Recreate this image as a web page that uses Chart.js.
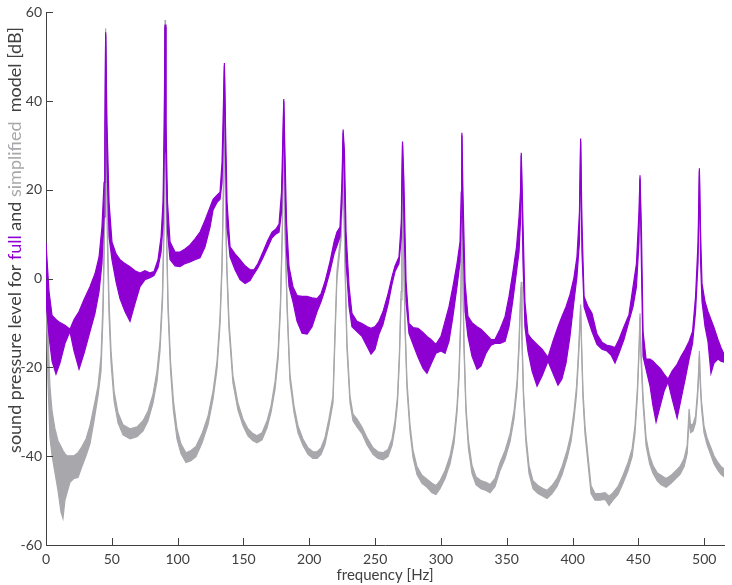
<!DOCTYPE html>
<html>
<head>
<meta charset="utf-8">
<script src="https://cdn.jsdelivr.net/npm/chart.js@4.4.0/dist/chart.umd.min.js"></script>
<style>
    body { margin: 0; background: #fff; }
    canvas { display: block; }
</style>
</head>
<body>
<canvas id="canvas" width="732" height="585"></canvas>
<script>
// full model: upper and lower envelope of the dense purple trace
var fullFreq = [
    0.0, 2.3, 4.6, 7.6, 10.6, 14.4, 18.2, 21.3, 25.1, 28.9, 33.4, 37.2, 40.3, 42.5, 44.1, 44.8, 45.3,
    46.3, 47.9, 50.1, 53.2, 56.2, 60.0, 63.8, 67.6, 71.4, 75.2, 79.0, 82.0, 85.1, 87.4, 88.9, 89.8, 90.4,
    91.1, 92.3, 94.2, 98.0, 101.8, 105.6, 109.4, 113.2, 117.0, 120.8, 124.6, 126.9, 129.9, 132.2, 133.7, 134.8, 135.5,
    136.3, 137.5, 139.8, 143.6, 147.4, 151.2, 155.0, 158.0, 161.0, 164.8, 168.6, 171.7, 174.7, 177.0, 178.9, 180.0, 180.6,
    181.5, 182.7, 184.6, 187.6, 190.7, 194.5, 198.3, 202.1, 205.9, 208.9, 211.9, 215.7, 218.8, 221.0, 223.3, 224.8, 225.7,
    226.7, 227.9, 230.2, 232.4, 236.2, 240.0, 243.8, 246.9, 249.9, 252.9, 256.0, 259.8, 262.8, 265.1, 268.1, 269.9, 270.8,
    271.9, 273.5, 275.7, 278.8, 282.6, 286.4, 289.4, 292.4, 296.2, 300.0, 303.1, 306.1, 309.1, 312.2, 314.5, 315.4, 315.9,
    316.7, 318.3, 320.5, 323.6, 327.4, 330.4, 334.2, 338.0, 341.0, 344.9, 348.7, 351.7, 354.7, 357.4, 359.3, 360.4, 361.0,
    362.3, 363.8, 366.1, 369.2, 373.0, 376.8, 381.3, 385.1, 388.9, 391.9, 395.0, 398.0, 401.0, 403.3, 405.2, 406.1,
    407.1, 408.7, 411.7, 414.7, 418.5, 422.3, 426.1, 429.2, 432.2, 435.2, 439.0, 442.8, 445.9, 448.5, 450.4, 451.2,
    452.3, 453.5, 455.8, 458.8, 461.1, 463.4, 466.5, 469.5, 472.5, 475.6, 479.4, 482.4, 485.5, 488.5, 491.1, 493.4, 495.3, 496.3,
    497.2, 498.3, 500.6, 502.8, 505.1, 507.4, 510.4, 512.7, 515.0
];
var fullMax = [
    8.1, -2.9, -8.3, -9.2, -9.9, -10.5, -11.4, -9.2, -7.4, -4.7, -1.8, 1.1, 4.9, 11.6, 21.7, 35.2, 55.5,
    35.2, 17.2, 8.3, 5.6, 4.3, 3.4, 2.7, 1.8, 1.3, 1.8, 1.3, 1.6, 4.3, 9.4, 17.2, 35.2, 57.3,
    35.2, 17.2, 8.3, 6.0, 6.0, 6.7, 7.6, 9.0, 10.5, 13.2, 16.1, 17.9, 18.8, 19.5, 26.2, 39.6, 48.6,
    35.2, 17.2, 7.2, 5.6, 4.3, 2.9, 2.0, 2.0, 3.4, 6.0, 8.7, 10.5, 11.2, 12.3, 19.5, 32.9, 40.5,
    28.4, 12.8, 2.7, -1.8, -3.8, -4.0, -4.0, -4.3, -4.5, -3.4, -0.7, 3.8, 8.3, 10.5, 11.6, 21.7, 33.6,
    28.4, 10.5, -1.8, -7.8, -9.6, -10.1, -10.8, -11.2, -10.8, -9.6, -7.4, -3.4, 0.4, 2.9, 4.9, 12.8, 30.9,
    21.7, -0.7, -10.1, -11.0, -11.2, -12.1, -13.0, -13.7, -14.8, -13.0, -9.6, -6.3, -1.8, 3.4, 8.3, 19.5, 32.9,
    19.5, -0.7, -8.5, -9.9, -10.8, -11.4, -12.5, -13.7, -13.7, -11.4, -8.5, -4.0, 1.6, 7.2, 13.9, 19.5, 28.4,
    12.8, -5.2, -12.5, -13.7, -14.8, -15.9, -17.7, -14.1, -10.8, -8.5, -6.3, -3.6, 0.2, 4.9, 15.0, 31.6,
    12.8, -4.0, -6.3, -7.8, -12.5, -14.3, -15.0, -15.2, -15.5, -13.7, -10.8, -8.1, -1.8, 3.4, 15.0, 23.3,
    10.5, -11.9, -18.1, -18.1, -18.6, -19.3, -20.2, -21.5, -22.6, -20.8, -19.3, -17.5, -15.9, -14.1, -11.9, -4.0, 8.3, 24.9,
    10.5, -1.1, -5.2, -7.4, -9.2, -11.0, -13.7, -15.5, -17.0
];
var fullMin = [
    -5.2, -13.0, -18.6, -21.5, -19.0, -14.6, -11.9, -16.3, -20.4, -16.8, -11.9, -7.8, -2.9, 3.4, 13.9, 30.7, 54.9,
    26.2, 9.4, 4.3, -0.7, -4.5, -7.4, -9.6, -5.6, -1.8, -0.2, 0.2, 0.7, 2.5, 6.0, 12.3, 28.4, 56.7,
    28.4, 10.5, 4.3, 2.9, 2.7, 3.4, 3.8, 4.3, 4.7, 7.2, 11.6, 15.5, 17.2, 17.9, 21.7, 32.9, 47.9,
    28.4, 11.6, 4.9, 2.0, -0.2, -1.1, -0.4, 1.1, 2.5, 4.7, 7.2, 9.2, 10.1, 10.5, 15.0, 28.4, 39.9,
    21.7, 6.0, -1.8, -5.2, -9.6, -12.3, -12.5, -10.8, -7.4, -5.2, -2.5, 1.6, 5.6, 7.4, 9.4, 17.2, 32.9,
    21.7, 3.8, -6.3, -10.8, -11.9, -13.0, -15.2, -17.0, -15.9, -12.5, -10.3, -5.8, -1.3, 1.6, 3.4, 9.4, 30.2,
    12.8, -5.2, -12.3, -14.8, -17.7, -20.2, -21.3, -19.3, -16.8, -16.3, -16.8, -14.1, -8.5, -1.8, 3.8, 13.9, 32.3,
    10.5, -7.4, -13.0, -17.5, -20.4, -19.7, -16.8, -15.0, -14.6, -14.6, -14.1, -10.8, -4.7, 1.6, 6.0, 12.8, 27.8,
    3.8, -10.8, -16.3, -20.8, -24.2, -21.9, -18.6, -21.3, -24.0, -22.6, -19.0, -13.0, -5.2, 0.4, 8.3, 30.9,
    6.0, -6.3, -9.2, -11.9, -14.8, -15.9, -16.3, -17.2, -19.0, -16.8, -13.7, -9.6, -6.3, -1.8, 8.3, 22.6,
    2.7, -17.5, -20.4, -24.2, -28.7, -32.3, -28.7, -25.3, -23.3, -27.1, -31.4, -27.1, -22.6, -18.1, -14.6, -7.4, 3.8, 24.2,
    3.8, -5.2, -10.8, -14.1, -21.3, -19.0, -18.1, -18.6, -18.8
];

// simplified model: upper and lower envelope of the grey trace
var simpFreq = [
    0.0, 1.5, 3.0, 4.6, 6.8, 9.1, 11.4, 12.9, 14.4, 16.0, 18.2, 21.3, 24.3, 27.3, 30.4, 33.4, 36.5, 39.5, 41.8, 43.3, 44.4, 45.0, 45.3,
    45.8, 46.7, 47.9, 49.4, 51.7, 54.7, 58.5, 63.8, 69.1, 73.7, 77.5, 81.3, 84.3, 86.6, 88.5, 89.6, 90.1, 90.4,
    90.8, 91.5, 92.7, 94.6, 96.8, 99.5, 102.5, 106.3, 110.1, 113.9, 118.5, 123.1, 126.9, 129.9, 132.2, 133.7, 134.8, 135.5,
    136.2, 137.3, 139.0, 142.0, 145.8, 149.6, 153.4, 157.2, 160.3, 164.1, 167.9, 170.9, 174.0, 176.3, 178.1, 179.6, 180.6,
    181.5, 183.1, 185.3, 188.4, 191.4, 195.2, 199.0, 202.8, 205.9, 208.9, 211.9, 214.9, 218.0, 219.5, 221.0, 222.5, 224.1, 225.2, 225.7,
    226.3, 227.5, 228.6, 230.9, 233.2, 236.2, 240.0, 243.8, 248.4, 252.2, 256.0, 259.8, 262.8, 265.1, 267.0, 268.5, 269.7, 270.4, 270.8,
    271.3, 272.7, 274.2, 276.5, 278.8, 281.8, 285.6, 289.4, 293.2, 296.2, 299.3, 303.1, 306.9, 309.9, 312.2, 313.7, 314.9, 315.5, 315.9,
    316.4, 317.5, 319.0, 320.9, 323.6, 326.6, 330.4, 334.2, 337.3, 341.1, 344.9, 348.7, 352.5, 355.5, 357.8, 359.3, 360.4, 361.0,
    361.5, 362.7, 364.6, 366.9, 369.9, 373.7, 377.5, 380.6, 384.4, 388.2, 392.0, 395.8, 398.8, 401.1, 403.0, 404.5, 405.6, 406.1,
    406.8, 407.9, 409.4, 411.3, 414.0, 417.0, 420.8, 424.6, 427.7, 430.7, 434.5, 438.3, 442.1, 445.2, 447.4, 449.3, 450.6, 451.2,
    452.0, 453.5, 455.8, 458.5, 461.1, 464.2, 467.2, 471.0, 474.8, 478.6, 481.6, 484.7, 487.0, 488.5, 489.6, 491.5, 493.4, 494.9, 495.9, 496.3,
    496.9, 497.9, 499.8, 502.1, 504.4, 507.4, 510.4, 512.7, 515.0
];
var simpMax = [
    7.2, -11.9, -24.2, -29.8, -33.8, -36.5, -37.8, -38.7, -39.4, -39.9, -39.9, -39.9, -39.2, -37.8, -36.1, -33.1, -28.7, -24.2, -17.5, -5.2, 12.8, 35.2, 56.4,
    35.2, 10.5, -5.2, -16.3, -25.3, -30.2, -32.9, -33.8, -33.4, -32.0, -29.8, -26.0, -20.8, -14.1, -2.9, 12.8, 35.2, 58.3,
    35.2, 12.8, -5.2, -18.6, -27.5, -33.8, -37.2, -39.2, -38.7, -37.8, -34.9, -30.9, -25.3, -18.6, -8.5, 3.8, 21.7, 46.8,
    21.7, 3.8, -9.6, -21.9, -28.0, -31.6, -33.8, -34.9, -35.4, -34.7, -32.0, -28.7, -23.1, -16.3, -5.2, 12.8, 37.8,
    12.8, -5.2, -21.5, -28.7, -33.1, -36.1, -38.1, -39.0, -39.0, -38.1, -35.8, -31.6, -26.4, -11.9, 1.6, 6.0, 10.5, 21.7, 30.7,
    17.2, -0.7, -14.1, -26.4, -30.5, -31.6, -33.4, -35.8, -38.1, -39.0, -39.2, -38.5, -36.1, -32.0, -26.4, -16.3, -2.9, 17.2, 27.3,
    12.8, -9.6, -23.1, -32.9, -38.7, -42.3, -44.3, -45.2, -46.1, -46.6, -45.5, -43.2, -39.9, -35.4, -28.7, -20.8, -9.6, 6.0, 26.2,
    6.0, -14.1, -28.7, -36.5, -42.1, -44.6, -45.5, -45.9, -46.4, -45.0, -41.4, -38.7, -34.9, -29.8, -23.1, -14.1, -4.0, -0.7,
    -11.9, -25.3, -35.4, -42.1, -45.5, -46.6, -47.3, -47.7, -46.6, -45.0, -42.3, -38.7, -34.9, -29.8, -24.2, -16.3, -9.2, -5.8,
    -14.1, -25.3, -33.1, -38.7, -46.6, -48.4, -48.4, -48.2, -49.0, -48.2, -46.8, -44.3, -41.4, -38.3, -33.1, -24.2, -14.1, -7.8,
    -16.3, -26.4, -35.8, -39.9, -42.1, -43.7, -44.3, -45.0, -44.3, -43.2, -42.3, -40.5, -37.6, -29.3, -33.1, -32.7, -30.9, -25.3, -19.7, -16.3,
    -21.9, -27.5, -33.1, -35.8, -37.6, -39.9, -41.4, -42.3, -42.8
];
var simpMin = [
    -2.9, -23.1, -35.8, -39.9, -43.7, -47.7, -52.6, -54.0, -49.9, -48.2, -45.9, -45.0, -44.8, -42.3, -39.9, -37.2, -32.0, -26.4, -20.8, -8.5, 9.4, 32.9, 55.3,
    32.9, 7.2, -8.5, -19.0, -27.5, -32.5, -35.2, -36.1, -35.6, -34.3, -32.0, -28.0, -23.1, -16.3, -5.2, 10.5, 32.9, 57.1,
    32.9, 10.5, -7.4, -20.8, -29.8, -36.1, -39.4, -41.4, -41.0, -40.1, -37.0, -32.9, -27.1, -20.4, -10.3, 2.0, 19.9, 45.5,
    19.9, 2.0, -11.4, -23.5, -29.6, -33.1, -35.4, -36.5, -37.0, -36.3, -33.6, -30.2, -24.9, -18.1, -6.9, 11.0, 36.5,
    11.0, -6.9, -23.1, -30.2, -34.7, -37.6, -39.6, -40.5, -40.5, -39.6, -37.4, -33.1, -28.0, -13.7, -0.2, 4.3, 8.7, 19.9, 29.6,
    15.5, -2.5, -15.9, -28.0, -32.0, -33.4, -34.9, -37.4, -39.6, -40.5, -40.8, -40.1, -37.6, -33.6, -28.0, -18.1, -4.7, 15.5, 26.2,
    11.0, -11.4, -24.9, -34.5, -40.3, -44.1, -46.1, -47.0, -48.2, -48.6, -47.3, -45.0, -41.7, -37.2, -30.2, -22.6, -11.4, 4.3, 25.1,
    4.3, -15.9, -30.2, -38.3, -43.9, -46.4, -47.3, -47.7, -48.2, -46.8, -43.2, -40.5, -36.7, -31.6, -24.9, -15.9, -5.6, -1.8,
    -13.7, -27.1, -37.2, -43.9, -47.3, -48.4, -49.0, -49.5, -48.4, -46.8, -44.1, -40.5, -36.7, -31.6, -26.0, -18.1, -10.5, -6.7,
    -15.9, -27.1, -34.9, -40.5, -48.4, -49.9, -49.9, -49.7, -51.1, -49.9, -48.6, -46.1, -43.2, -40.1, -34.9, -26.0, -15.5, -8.7,
    -18.1, -28.2, -37.6, -41.7, -43.9, -45.5, -46.4, -47.0, -46.1, -45.0, -44.1, -42.3, -39.4, -32.0, -34.7, -34.3, -32.5, -27.1, -21.3, -17.2,
    -23.5, -29.1, -34.7, -37.4, -39.2, -41.7, -43.2, -44.1, -44.6
];

var xTicks = [0, 50, 100, 150, 200, 250, 300, 350, 400, 450, 500];
var yTicks = [-60, -40, -20, 0, 20, 40, 60];

var purple = 'rgb(142,0,210)';
var grey = 'rgb(168,168,172)';
var ink = '#404040';
var fontFamily = 'Lato, "Noto Sans", sans-serif';

function toPoints(xs, ys) {
    var pts = [];
    for (var i = 0; i < xs.length; i++) pts.push({ x: xs[i], y: ys[i] });
    return pts;
}

// inward tick marks and the two-colour y label
var axisExtras = {
    id: 'axisExtras',
    afterDraw: function (chart) {
        var ctx = chart.ctx;
        var area = chart.chartArea;
        var sx = chart.scales.x;
        var sy = chart.scales.y;
        ctx.save();
        ctx.strokeStyle = ink;
        ctx.lineWidth = 1;
        ctx.beginPath();
        xTicks.forEach(function (v) {
            var p = Math.round(sx.getPixelForValue(v)) + 0.5;
            ctx.moveTo(p, area.bottom);
            ctx.lineTo(p, area.bottom - 7);
        });
        yTicks.forEach(function (v) {
            var p = Math.round(sy.getPixelForValue(v)) + 0.5;
            ctx.moveTo(area.left, p);
            ctx.lineTo(area.left + 7, p);
        });
        ctx.stroke();

        var parts = [
            ['sound pressure level for ', ink],
            ['full', purple],
            [' and ', ink],
            ['simplified', grey],
            ['  model [dB]', ink]
        ];
        ctx.font = '18px ' + fontFamily;
        ctx.textBaseline = 'middle';
        ctx.textAlign = 'left';
        var total = 0;
        parts.forEach(function (p) { total += ctx.measureText(p[0]).width; });
        ctx.translate(15, 240);
        ctx.rotate(-Math.PI / 2);
        var pos = -total / 2;
        parts.forEach(function (p) {
            ctx.fillStyle = p[1];
            ctx.fillText(p[0], pos, 0);
            pos += ctx.measureText(p[0]).width;
        });
        ctx.restore();
    }
};

new Chart('canvas', {
    type: 'line',
    data: {
        datasets: [
            {
                data: toPoints(fullFreq, fullMin),
                borderColor: purple,
                borderWidth: 1.2,
                fill: false
            },
            {
                data: toPoints(fullFreq, fullMax),
                borderColor: purple,
                borderWidth: 1.2,
                backgroundColor: purple,
                fill: '-1'
            },
            {
                data: toPoints(simpFreq, simpMin),
                borderColor: grey,
                borderWidth: 1.2,
                fill: false
            },
            {
                data: toPoints(simpFreq, simpMax),
                borderColor: grey,
                borderWidth: 1.2,
                backgroundColor: grey,
                fill: '-1'
            }
        ]
    },
    options: {
        responsive: false,
        animation: false,
        events: [],
        layout: { padding: { left: 0, right: 8, top: 9, bottom: 0 } },
        elements: {
            point: { radius: 0 },
            line: { tension: 0 }
        },
        plugins: {
            legend: { display: false },
            tooltip: { enabled: false }
        },
        scales: {
            x: {
                type: 'linear',
                min: 0,
                max: 515,
                afterBuildTicks: function (s) {
                    s.ticks = xTicks.map(function (v) { return { value: v }; });
                },
                afterFit: function (s) { s.height = 40; },
                grid: { display: false, drawTicks: false },
                border: { display: true, color: ink, width: 1 },
                ticks: {
                    color: ink,
                    padding: 6,
                    maxRotation: 0,
                    font: { family: fontFamily, size: 14 }
                },
                title: {
                    display: true,
                    text: 'frequency [Hz]',
                    color: ink,
                    padding: { top: 0, bottom: 1 },
                    font: { family: fontFamily, size: 15 }
                }
            },
            y: {
                min: -60,
                max: 60,
                afterBuildTicks: function (s) {
                    s.ticks = yTicks.map(function (v) { return { value: v }; });
                },
                afterFit: function (s) { s.width = 46; },
                grid: { display: false, drawTicks: false },
                border: { display: true, color: ink, width: 1 },
                ticks: {
                    color: ink,
                    padding: 4,
                    font: { family: fontFamily, size: 14 }
                }
            }
        }
    },
    plugins: [axisExtras]
});
</script>
</body>
</html>
